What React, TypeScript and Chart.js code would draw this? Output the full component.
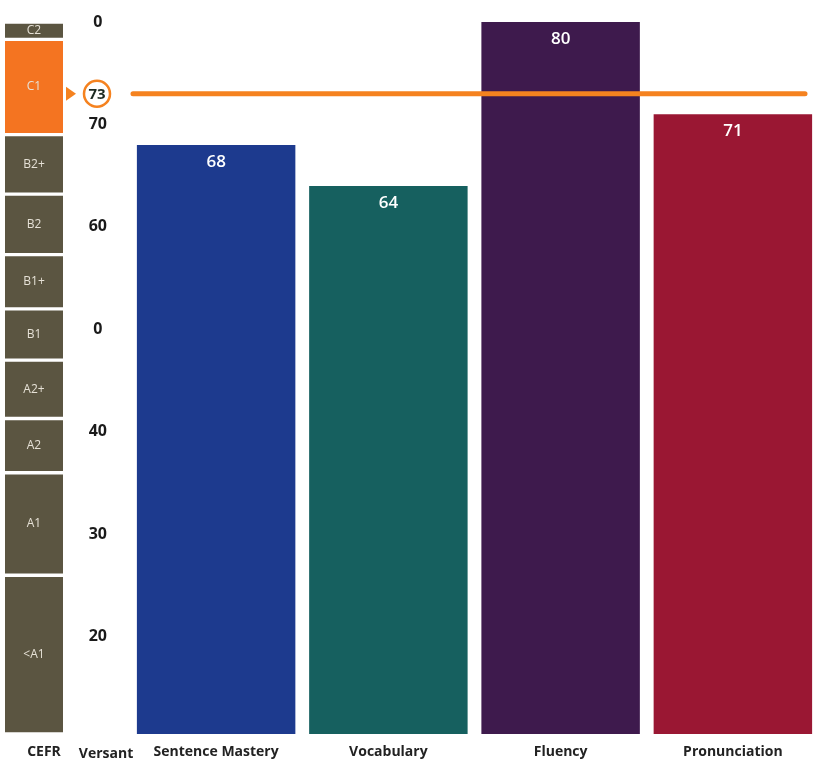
import React, { useEffect, useRef } from "react";
import { Chart, registerables } from "chart.js";

Chart.register(...registerables);

// ---- data ----
const skillLabels = ["Sentence Mastery", "Vocabulary", "Fluency", "Pronunciation"];
const skillScores = [68, 64, 80, 71];
const versantScore = 73;

const tickValues = [20, 30, 40, 50, 60, 70, 80];
const tickLabels = ["20", "30", "40", "0", "60", "70", "0"];

const cefrLabels = ["<A1", "A1", "A2", "A2+", "B1", "B1+", "B2", "B2+", "C1", "C2"];
const cefrLow = [10.5, 26, 36, 41.3, 47, 52, 57.3, 63.2, 69, 78.3];
const cefrHigh = [26, 36, 41.3, 47, 52, 57.3, 63.2, 69, 78.3, 80];

const scaleMin = 10.5;
const scaleMax = 80;

// ---- styles ----
const barColors = ["#1D3A8E", "#16605F", "#3E1A4D", "#9A1733"];
const orange = "#F5821F";
const cefrOrange = "#F47421";
const cefrBrown = "#5B5541";
const FONT = "'Open Sans', 'Noto Sans', sans-serif";

const W = 819;
const H = 775;
const LEFT_W = 64;
const AXIS_H = 41;
const TOP_PAD = 22;

const barLabelPlugin = {
  id: "barLabels",
  afterDatasetsDraw(chart: any) {
    const ctx = chart.ctx;
    const meta = chart.getDatasetMeta(0);
    ctx.save();
    ctx.fillStyle = "#ffffff";
    ctx.font = `600 17px ${FONT}`;
    ctx.textAlign = "center";
    ctx.textBaseline = "middle";
    meta.data.forEach((el: any, i: number) => {
      ctx.fillText(String(skillScores[i]), el.x, el.y + 17);
    });
    ctx.restore();
  },
};

const markerPlugin = {
  id: "versantMarker",
  afterDraw(chart: any) {
    const ctx = chart.ctx;
    const y = chart.scales.y;
    const py = y.getPixelForValue(versantScore);
    const cx = y.right - 33;
    ctx.save();
    // triangle pointer
    ctx.fillStyle = orange;
    ctx.beginPath();
    ctx.moveTo(cx - 31, py - 7);
    ctx.lineTo(cx - 21, py);
    ctx.lineTo(cx - 31, py + 7);
    ctx.closePath();
    ctx.fill();
    // circle
    ctx.beginPath();
    ctx.arc(cx, py, 13, 0, Math.PI * 2);
    ctx.fillStyle = "#ffffff";
    ctx.fill();
    ctx.lineWidth = 2.5;
    ctx.strokeStyle = orange;
    ctx.stroke();
    ctx.fillStyle = "#1c2a22";
    ctx.font = `bold 15px ${FONT}`;
    ctx.textAlign = "center";
    ctx.textBaseline = "middle";
    ctx.fillText(String(versantScore), cx, py + 1);
    // "Versant" column title
    const x = chart.scales.x;
    ctx.fillStyle = "#222222";
    ctx.font = `bold 14px ${FONT}`;
    ctx.fillText("Versant", y.right - 24, x.top + 20);
    ctx.restore();
  },
};

const cefrLabelPlugin = {
  id: "cefrLabels",
  afterDatasetsDraw(chart: any) {
    const ctx = chart.ctx;
    ctx.save();
    ctx.fillStyle = "#E6E1D6";
    ctx.font = `12px ${FONT}`;
    ctx.textAlign = "center";
    ctx.textBaseline = "middle";
    cefrLabels.forEach((lab, i) => {
      const el = chart.getDatasetMeta(i).data[0];
      if (!el) return;
      ctx.fillText(lab, el.x, (el.y + el.base) / 2);
    });
    ctx.restore();
  },
};

export default function App() {
  const leftRef = useRef<HTMLCanvasElement>(null);
  const mainRef = useRef<HTMLCanvasElement>(null);

  useEffect(() => {
    const inBand = (i: number) => versantScore >= cefrLow[i] && versantScore < cefrHigh[i];

    const left = new Chart(leftRef.current!, {
      type: "bar",
      data: {
        labels: ["CEFR"],
        datasets: cefrLabels.map((lab, i) => ({
          label: lab,
          data: [[cefrLow[i], cefrHigh[i]]] as any,
          grouped: false,
          backgroundColor: inBand(i) ? cefrOrange : cefrBrown,
          borderColor: "#ffffff",
          borderWidth: { top: 2, bottom: 2, left: 0, right: 0 },
          borderSkipped: false,
          barPercentage: 1,
          categoryPercentage: 1,
        })),
      },
      options: {
        responsive: false,
        animation: false,
        layout: { padding: { top: TOP_PAD, left: 5, right: 1, bottom: 0 } },
        plugins: { legend: { display: false }, tooltip: { enabled: false } },
        scales: {
          x: {
            grid: { display: false, drawTicks: false },
            border: { display: false },
            ticks: { color: "#222", font: { family: FONT, size: 14, weight: "bold" }, padding: 10, labelOffset: 10 },
            afterFit: (s: any) => { s.height = AXIS_H; },
          },
          y: { display: false, min: scaleMin, max: scaleMax },
        },
      },
      plugins: [cefrLabelPlugin],
    });

    const main = new Chart(mainRef.current!, {
      type: "bar",
      data: {
        labels: skillLabels,
        datasets: [
          {
            type: "bar",
            data: skillScores,
            backgroundColor: barColors,
            barPercentage: 0.92,
            categoryPercentage: 1,
            grouped: false,
            order: 1,
          } as any,
          {
            type: "line",
            xAxisID: "x2",
            data: [
              { x: 0, y: versantScore },
              { x: 1, y: versantScore },
            ],
            borderColor: orange,
            borderWidth: 5,
            borderCapStyle: "round",
            pointRadius: 0,
            order: 0,
          } as any,
        ],
      },
      options: {
        responsive: false,
        animation: false,
        layout: { padding: { top: TOP_PAD, left: 0, right: 0, bottom: 0 } },
        plugins: { legend: { display: false }, tooltip: { enabled: false } },
        scales: {
          x: {
            grid: { display: false, drawTicks: false },
            border: { display: false },
            ticks: { color: "#222", font: { family: FONT, size: 14, weight: "bold" }, padding: 10 },
            afterFit: (s: any) => { s.height = AXIS_H; },
          },
          x2: {
            type: "linear",
            display: false,
            offset: false,
            min: -0.00446,
            max: 1.0208,
          },
          y: {
            min: scaleMin,
            max: scaleMax,
            grid: { display: false, drawTicks: false },
            border: { display: false },
            afterBuildTicks: (s: any) => {
              s.ticks = tickValues.map((v) => ({ value: v }));
            },
            ticks: {
              color: "#1a1a1a",
              font: { family: FONT, size: 16, weight: "bold" },
              padding: 23,
              crossAlign: "center",
              callback: (v: any) => {
                const i = tickValues.indexOf(Number(v));
                return i >= 0 ? tickLabels[i] : "";
              },
            },
            afterFit: (s: any) => {
              s.width = 130 - LEFT_W;
              s.paddingTop = 0;
              s.paddingBottom = 0;
            },
          },
        },
      },
      plugins: [barLabelPlugin, markerPlugin],
    });

    return () => {
      left.destroy();
      main.destroy();
    };
  }, []);

  return (
    <div style={{ position: "fixed", left: 0, top: 0, width: W, height: H, background: "#fff" }}>
      <canvas
        ref={leftRef}
        width={LEFT_W}
        height={H}
        style={{ position: "absolute", left: 0, top: 0, width: LEFT_W, height: H }}
      />
      <canvas
        ref={mainRef}
        width={W - LEFT_W}
        height={H}
        style={{ position: "absolute", left: LEFT_W, top: 0, width: W - LEFT_W, height: H }}
      />
    </div>
  );
}
